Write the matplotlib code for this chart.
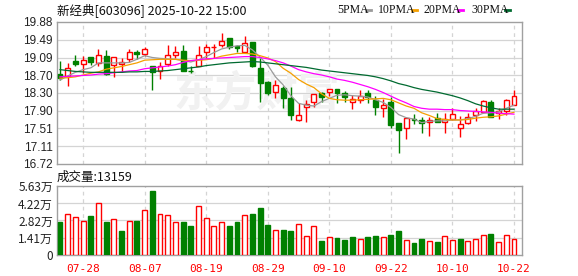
import matplotlib
matplotlib.use("Agg")
import matplotlib.pyplot as plt
from matplotlib.patches import Rectangle
import numpy as np

plt.rcParams['font.family'] = ['Noto Sans CJK SC', 'DejaVu Sans']

title_text = "新经典[603096] 2025-10-22 15:00"
vol_label = "成交量:13159"

opens = [18.72, 18.68, 19.01, 18.95, 19.09, 18.97, 19.12, 18.92, 18.94, 19.05,
         19.22, 19.17, 18.89, 18.79, 18.94, 19.15, 19.23, 18.80, 18.90, 19.22,
         19.32, 19.37, 19.52, 19.35, 19.22, 19.43, 18.85, 18.55, 18.33, 18.42,
         18.18, 17.71, 17.98, 18.09, 18.31, 18.32, 18.39, 18.29, 18.11, 18.14,
         18.29, 18.14, 17.96, 18.11, 17.63, 17.51, 17.73, 17.70, 17.65, 17.75,
         17.66, 17.72, 17.51, 17.63, 17.80, 17.88, 18.09, 17.86, 17.91, 18.03]
highs = [19.01, 18.97, 19.15, 19.13, 19.10, 19.29, 19.26, 19.10, 19.07, 19.27,
         19.26, 19.33, 18.90, 18.98, 19.37, 19.35, 19.37, 18.89, 19.35, 19.39,
         19.39, 19.63, 19.52, 19.37, 19.57, 19.44, 19.07, 18.56, 18.59, 18.46,
         18.44, 18.07, 18.14, 18.28, 18.33, 18.40, 18.40, 18.35, 18.26, 18.37,
         18.37, 18.23, 18.16, 18.22, 17.63, 17.77, 17.83, 17.77, 17.77, 17.85,
         17.85, 17.96, 17.79, 17.86, 17.96, 18.14, 18.14, 17.96, 18.17, 18.37]
lows = [18.59, 18.46, 18.91, 18.74, 18.93, 18.91, 18.70, 18.66, 18.77, 18.99,
        19.05, 19.12, 18.37, 18.61, 18.89, 19.09, 18.79, 18.74, 18.89, 19.07,
        19.09, 19.33, 19.29, 19.21, 19.21, 18.87, 18.11, 18.26, 18.18, 17.97,
        17.70, 17.68, 17.66, 17.98, 18.11, 18.23, 18.07, 18.11, 17.94, 18.07,
        18.07, 17.81, 17.76, 17.51, 16.96, 17.27, 17.61, 17.40, 17.35, 17.66,
        17.42, 17.70, 17.33, 17.61, 17.68, 17.86, 17.76, 17.72, 17.80, 18.03]
closes = [18.63, 18.86, 18.95, 19.03, 18.98, 19.14, 18.72, 19.09, 18.98, 19.21,
          19.17, 19.29, 18.77, 18.91, 19.14, 19.22, 18.80, 18.78, 19.15, 19.32,
          19.33, 19.46, 19.33, 19.30, 19.42, 18.89, 18.52, 18.31, 18.48, 18.18,
          17.80, 17.81, 18.05, 18.28, 18.20, 18.38, 18.31, 18.20, 18.16, 18.23,
          18.20, 17.99, 18.03, 17.59, 17.48, 17.74, 17.71, 17.63, 17.71, 17.66,
          17.73, 17.83, 17.61, 17.77, 17.91, 18.12, 17.77, 17.91, 18.14, 18.23]
prev_close = 18.75

ma5 = [18.59, 18.68, 18.76, 18.82, 18.86, 18.97, 18.97, 18.97, 18.97, 18.98,
       19.05, 19.13, 19.09, 19.07, 19.06, 19.05, 19.02, 18.99, 19.04, 19.11,
       19.20, 19.28, 19.32, 19.35, 19.36, 19.26, 19.10, 18.92, 18.66, 18.48,
       18.24, 18.07, 18.03, 18.01, 18.11, 18.18, 18.25, 18.26, 18.24, 18.23,
       18.21, 18.15, 18.09, 17.98, 17.82, 17.75, 17.72, 17.64, 17.67, 17.68,
       17.68, 17.70, 17.70, 17.73, 17.78, 17.85, 17.86, 17.88, 17.96, 18.03]
ma10 = [18.63, 18.64, 18.66, 18.70, 18.74, 18.77, 18.83, 18.86, 18.89, 18.93,
        18.97, 19.03, 19.04, 19.05, 19.05, 19.05, 19.03, 19.02, 19.03, 19.04,
        19.07, 19.12, 19.15, 19.18, 19.18, 19.17, 19.13, 19.08, 19.00, 18.85,
        18.74, 18.60, 18.50, 18.42, 18.28, 18.18, 18.15, 18.14, 18.14, 18.15,
        18.16, 18.17, 18.18, 18.15, 18.08, 18.01, 17.96, 17.86, 17.80, 17.73,
        17.71, 17.70, 17.70, 17.71, 17.74, 17.76, 17.77, 17.79, 17.83, 17.87]
ma20 = [18.66, 18.67, 18.68, 18.69, 18.70, 18.72, 18.73, 18.75, 18.77, 18.79,
        18.80, 18.84, 18.86, 18.88, 18.90, 18.93, 18.98, 19.02, 19.04, 19.06,
        19.07, 19.08, 19.09, 19.10, 19.11, 19.11, 19.09, 19.06, 19.02, 18.97,
        18.90, 18.82, 18.77, 18.73, 18.70, 18.66, 18.61, 18.58, 18.54, 18.49,
        18.44, 18.38, 18.31, 18.23, 18.15, 18.08, 18.00, 17.96, 17.94, 17.94,
        17.93, 17.93, 17.91, 17.90, 17.89, 17.88, 17.87, 17.85, 17.84, 17.83]
ma30 = [18.82, 18.80, 18.78, 18.77, 18.76, 18.76, 18.76, 18.76, 18.76, 18.77,
        18.77, 18.78, 18.78, 18.79, 18.80, 18.82, 18.84, 18.86, 18.88, 18.91,
        18.93, 18.95, 18.97, 18.98, 18.99, 19.00, 18.99, 18.97, 18.95, 18.93,
        18.91, 18.89, 18.87, 18.84, 18.81, 18.79, 18.77, 18.75, 18.73, 18.71,
        18.69, 18.66, 18.62, 18.57, 18.51, 18.47, 18.42, 18.38, 18.35, 18.32,
        18.28, 18.24, 18.19, 18.13, 18.06, 18.01, 17.97, 17.94, 17.94, 17.94]

volumes = [2.72, 3.35, 3.08, 2.77, 3.21, 4.23, 2.72, 2.91, 1.95, 2.77,
           2.77, 3.68, 5.24, 3.35, 3.27, 2.69, 2.72, 2.39, 4.01, 3.02,
           2.36, 2.69, 2.39, 2.72, 3.27, 3.38, 3.87, 2.47, 2.03, 2.03,
           1.95, 2.53, 1.54, 2.36, 1.13, 1.43, 1.37, 1.21, 1.46, 1.27,
           1.46, 1.54, 1.46, 1.62, 1.95, 1.21, 0.99, 1.29, 1.13, 1.05,
           1.54, 1.21, 1.29, 1.13, 1.27, 1.62, 1.70, 1.05, 1.62, 1.3159]

price_ticks = [19.88, 19.49, 19.09, 18.70, 18.30, 17.90, 17.51, 17.11, 16.72]
price_tick_labels = ["19.88", "19.49", "19.09", "18.70", "18.30", "17.90", "17.51", "17.11", "16.72"]
vol_ticks = [0, 1.41, 2.82, 4.22, 5.63]
vol_tick_labels = ["0", "1.41万", "2.82万", "4.22万", "5.63万"]
date_idx = [3, 11, 19, 27, 35, 43, 51, 59]
date_labels = ["07-28", "08-07", "08-19", "08-29", "09-10", "09-22", "10-10", "10-22"]

RED = "#ff0000"
GREEN = "#008000"
FRAME = "#a0a0a0"
GRID = "#d4d4d4"

W, H = 578, 276
fig = plt.figure(figsize=(W / 100, H / 100), dpi=100)

def fx(px):
    return px / W

def fy(py):
    return 1 - py / H

ax = fig.add_axes([fx(57), fy(164), fx(522) - fx(57), fy(22) - fy(164)])
axv = fig.add_axes([fx(57), fy(254.7), fx(522) - fx(57), fy(186.3) - fy(254.7)])

n = len(closes)
xs = np.arange(n)
xlim = (-0.39, n - 1 + 1.04)
bw = 0.64

for a in (ax, axv):
    a.set_xlim(*xlim)
    for s in a.spines.values():
        s.set_color(FRAME)
        s.set_linewidth(1.0)
    a.tick_params(length=0)
    a.set_xticks([])
    for d in date_idx:
        a.axvline(d, color=GRID, lw=0.9, ls=(0, (3, 3)), zorder=0)

# price panel
ax.set_ylim(16.72, 19.88)
ax.set_yticks(price_ticks)
ax.set_yticklabels(price_tick_labels, fontsize=8.5, color="#222222", family=["Liberation Sans"])
ax.tick_params(axis="y", pad=3)
for t in price_ticks[1:-1]:
    ax.axhline(t, color=GRID, lw=0.9, zorder=0)

ax.text(0.43, 0.5, "东方财富", transform=ax.transAxes, fontsize=30, color="#f1f1f1",
        ha="center", va="center", fontweight="bold", style="italic", zorder=0)

for i in range(n):
    o, h, l, c = opens[i], highs[i], lows[i], closes[i]
    up = c >= o
    col = RED if up else GREEN
    lo, hi = min(o, c), max(o, c)
    ax.vlines(xs[i], l, lo, color=col, lw=1.0, zorder=3)
    ax.vlines(xs[i], hi, h, color=col, lw=1.0, zorder=3)
    if hi - lo < 0.012:
        ax.hlines(c, xs[i] - bw / 2, xs[i] + bw / 2, color=col, lw=1.0, zorder=3)
    else:
        ax.add_patch(Rectangle((xs[i] - bw / 2, lo), bw, hi - lo,
                               facecolor="white" if up else col, edgecolor=col,
                               lw=1.0, zorder=3))

ax.plot(xs, ma5, color="#9a9a9a", lw=0.9, zorder=4)
ax.plot(xs, ma10, color="#f5a000", lw=0.9, zorder=4)
ax.plot(xs, ma20, color="#ff00ff", lw=0.9, zorder=4)
ax.plot(xs, ma30, color="#006a30", lw=0.9, zorder=4)

# volume panel
axv.set_ylim(0, 5.63)
axv.set_yticks(vol_ticks)
axv.set_yticklabels(vol_tick_labels, fontsize=8.5, color="#222222")
axv.tick_params(axis="y", pad=3)
for t in vol_ticks[1:-1]:
    axv.axhline(t, color=GRID, lw=0.9, zorder=0)

prevs = [prev_close] + closes[:-1]
for i in range(n):
    up = closes[i] >= prevs[i]
    col = RED if up else GREEN
    axv.add_patch(Rectangle((xs[i] - bw / 2, 0), bw, volumes[i],
                            facecolor="white" if up else col, edgecolor=col,
                            lw=1.0, zorder=3))

for d, lab in zip(date_idx, date_labels):
    axv.text(d, -0.14, lab, transform=axv.get_xaxis_transform(), ha="center",
             va="top", fontsize=8, color=RED, family=["DejaVu Sans Mono"])

fig.text(fx(57), fy(10), title_text, fontsize=9, color="#111111", va="center", ha="left")
fig.text(fx(57), fy(177), vol_label, fontsize=9, color="#111111", va="center", ha="left")

# legend
leg_items = [("5PMA", "#9a9a9a", 337), ("10PMA", "#f5a000", 378),
             ("20PMA", "#ff00ff", 424), ("30PMA", "#006a30", 471)]
for lab, col, x0 in leg_items:
    fig.text(fx(x0), fy(10), lab, fontsize=8.5, color="#111111", va="center",
             ha="left", family=["Liberation Serif"])
    wpx = {4: 28, 5: 33}[len(lab)]
    fig.add_artist(plt.Line2D([fx(x0 + wpx + 1), fx(x0 + wpx + 6)], [fy(10), fy(10)],
                              color=col, lw=2.0))

fig.savefig("out.png", dpi=100)
